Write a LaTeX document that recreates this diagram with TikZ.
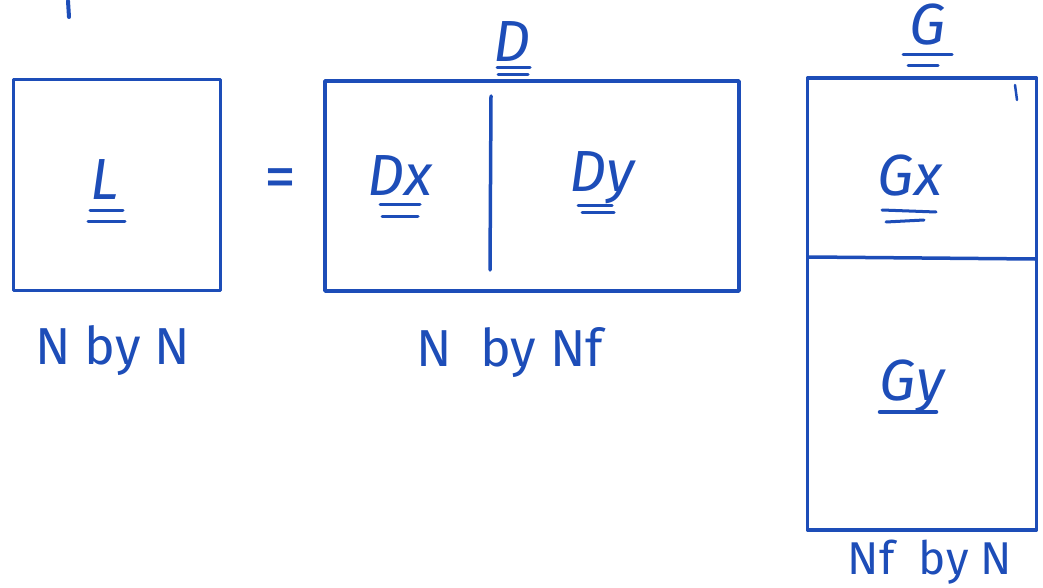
\documentclass[tikz,border=0pt]{standalone}
\usepackage{fontspec}
\setmainfont{Fira Sans}
\definecolor{ink}{HTML}{1D4DB8}
\begin{document}
\begin{tikzpicture}[x=1pt,y=-1pt,
  ink/.style={draw=ink,line width=3.5pt,line cap=round,line join=round},
  mat/.style={ink,inner sep=0pt},
  lbl/.style={text=ink,font=\fontsize{52}{56}\selectfont,inner sep=0pt,anchor=base},
  sym/.style={text=ink,font=\fontsize{58}{62}\selectfont\itshape,inner sep=0pt,anchor=base},
  ul/.style={ink,line width=3pt}]
\useasboundingbox (0,0) rectangle (1043,588);
% stray tick
\coordinate (t1) at (68,1); \coordinate (t2) at (69,17);
\draw[ink,line width=4pt] (t1) -- (t2);
% L box
\node[mat,minimum width=207pt,minimum height=211pt] (Lbox) at (117,185) {};
\node[sym] (L) at (105,200) {L};
\draw[ul] ([xshift=-15pt,yshift=-10pt]L.base) -- ([xshift=18pt,yshift=-10pt]L.base);
\draw[ul] ([xshift=-17pt,yshift=-21pt]L.base) -- ([xshift=20pt,yshift=-21pt]L.base);
% equals
\node[text=ink,font=\fontsize{64}{68}\selectfont,inner sep=0pt] (eq) at (280,184) {=};
% D box
\node[mat,minimum width=414pt,minimum height=210pt] (Dbox) at (532,186) {};
\coordinate (d1) at (491,96); \coordinate (d2) at (490,270);
\draw[ink] (d1) -- (d2);
\node[sym] (D) at (512,62) {D};
\draw[ul] ([xshift=-15pt,yshift=-6pt]D.base) -- ([xshift=18pt,yshift=-6pt]D.base);
\draw[ul] ([xshift=-14pt,yshift=-13pt]D.base) -- ([xshift=16pt,yshift=-13pt]D.base);
\node[sym] (Dx) at (400,195) {Dx};
\draw[ul] ([xshift=-20pt,yshift=-9pt]Dx.base) -- ([xshift=20pt,yshift=-9pt]Dx.base);
\draw[ul] ([xshift=-18pt,yshift=-21pt]Dx.base) -- ([xshift=18pt,yshift=-21pt]Dx.base);
\node[sym] (Dy) at (602,192) {Dy};
\draw[ul] ([xshift=-24pt,yshift=-13pt]Dy.base) -- ([xshift=10pt,yshift=-13pt]Dy.base);
\draw[ul] ([xshift=-20pt,yshift=-20pt]Dy.base) -- ([xshift=12pt,yshift=-20pt]Dy.base);
% G box
\node[mat,minimum width=229pt,minimum height=452pt] (Gbox) at (922,304) {};
\coordinate (g1) at (809,257); \coordinate (g2) at (1035,259);
\draw[ink] (g1) -- (g2);
\coordinate (s1) at (1015,85); \coordinate (s2) at (1017,100);
\draw[ink,line width=2.5pt] (s1) -- (s2);
\node[sym] (G) at (928,45) {G};
\draw[ul] ([xshift=-25pt,yshift=-10pt]G.base) -- ([xshift=24pt,yshift=-10pt]G.base);
\draw[ul] ([xshift=-20pt,yshift=-21pt]G.base) -- ([xshift=10pt,yshift=-21pt]G.base);
\node[sym] (Gx) at (910,195) {Gx};
\draw[ul] ([xshift=-28pt,yshift=-15pt]Gx.base) -- ([xshift=26pt,yshift=-17pt]Gx.base);
\draw[ul] ([xshift=-24pt,yshift=-27pt]Gx.base) -- ([xshift=14pt,yshift=-25pt]Gx.base);
\node[sym] (Gy) at (912,400) {Gy};
\draw[ul,line width=4.5pt] ([xshift=-32pt,yshift=-12pt]Gy.base) -- ([xshift=24pt,yshift=-12pt]Gy.base);
% dimension labels
\node[lbl] (nn) at (113,364) {N by N};
\node[lbl] (nnf) at (510,366) {N \ by Nf};
\node[lbl,font=\fontsize{46}{50}\selectfont] (nfn) at (930,574) {Nf \ by N};
\end{tikzpicture}
\end{document}
